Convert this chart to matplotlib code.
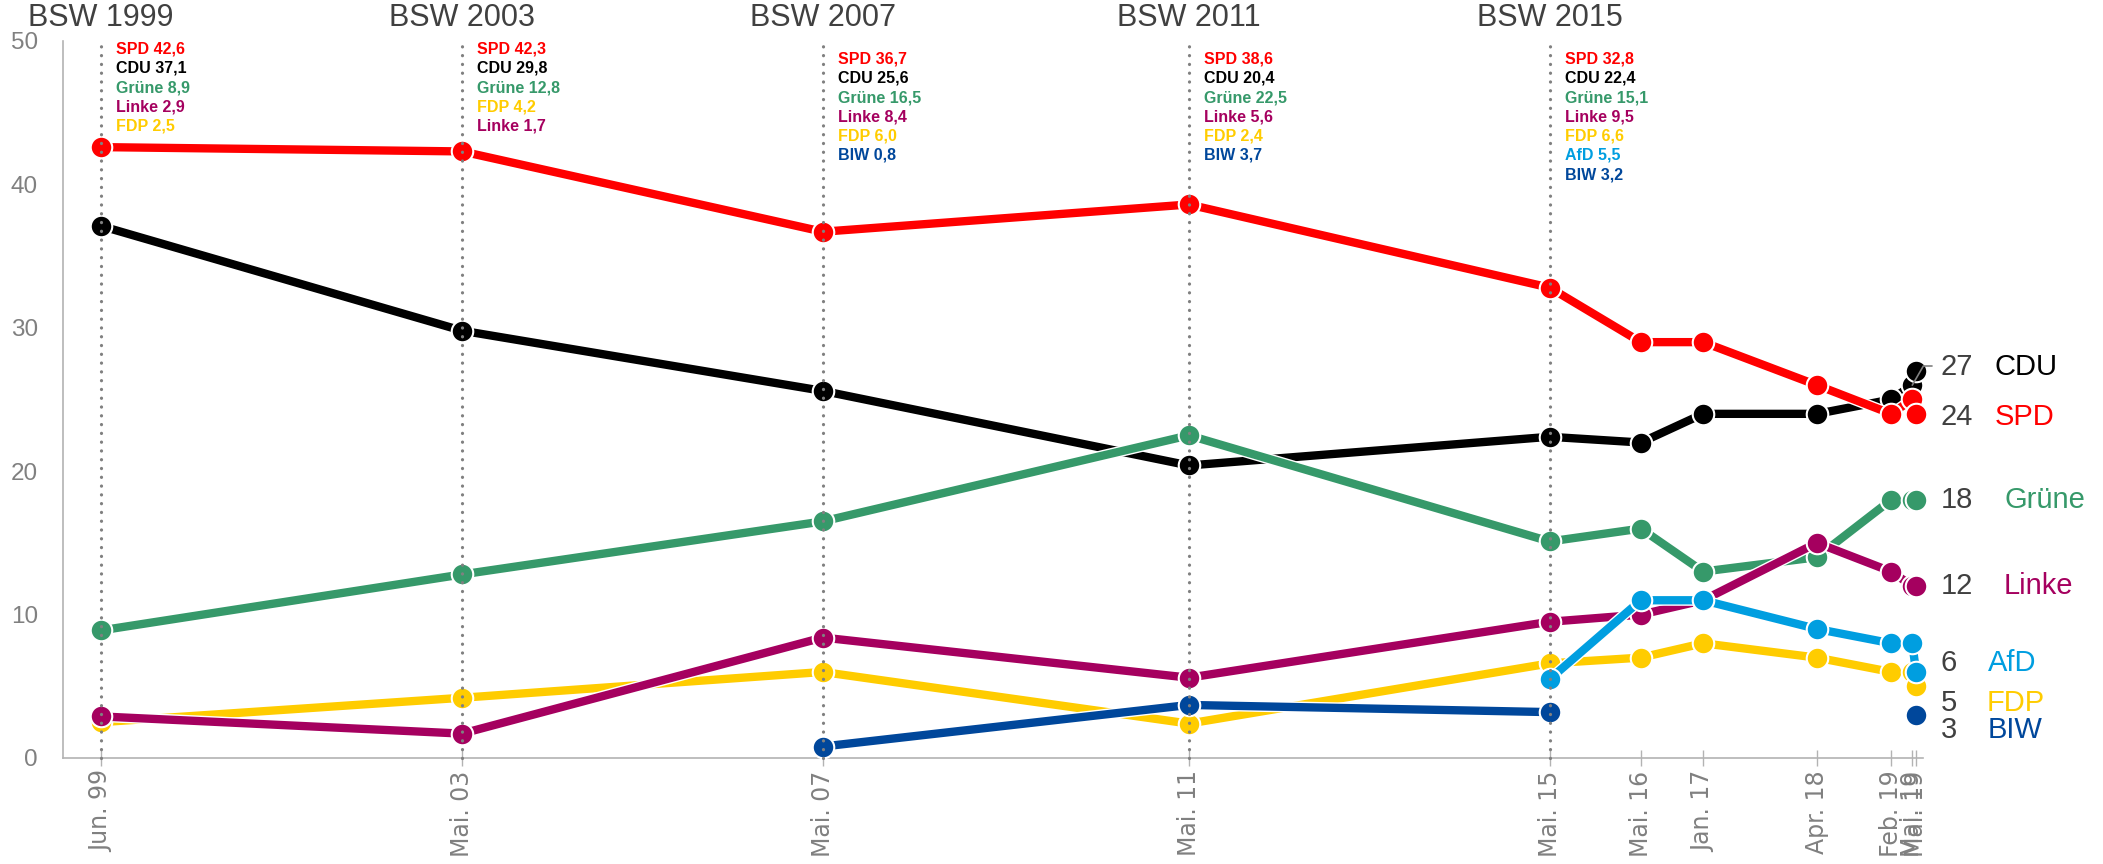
import datetime as dt

import matplotlib
matplotlib.use("Agg")
import matplotlib.pyplot as plt
import matplotlib.patheffects as pe
from matplotlib.transforms import blended_transform_factory, offset_copy

nan = float("nan")

# poll dates: five elections, then the polls after 2015
dates = [dt.date(1999, 6, 6), dt.date(2003, 5, 25), dt.date(2007, 5, 13), dt.date(2011, 5, 22),
         dt.date(2015, 5, 10), dt.date(2016, 5, 10), dt.date(2017, 1, 15), dt.date(2018, 4, 17),
         dt.date(2019, 2, 9), dt.date(2019, 5, 5), dt.date(2019, 5, 20)]
tick_labels = ["Jun. 99", "Mai. 03", "Mai. 07", "Mai. 11", "Mai. 15", "Mai. 16", "Jan. 17",
               "Apr. 18", "Feb. 19", "Mai. 19", "Mai. 19"]
elections = ["BSW 1999", "BSW 2003", "BSW 2007", "BSW 2011", "BSW 2015"]
# order of the result lines next to each election
result_order = [
    ["SPD", "CDU", "Grüne", "Linke", "FDP"],
    ["SPD", "CDU", "Grüne", "FDP", "Linke"],
    ["SPD", "CDU", "Grüne", "Linke", "FDP", "BIW"],
    ["SPD", "CDU", "Grüne", "Linke", "FDP", "BIW"],
    ["SPD", "CDU", "Grüne", "Linke", "FDP", "AfD", "BIW"],
]

parties = ["CDU", "SPD", "Grüne", "FDP", "Linke", "AfD", "BIW"]
cdu = [37.1, 29.8, 25.6, 20.4, 22.4, 22, 24, 24, 25, 26, 27]
spd = [42.6, 42.3, 36.7, 38.6, 32.8, 29, 29, 26, 24, 25, 24]
gruene = [8.9, 12.8, 16.5, 22.5, 15.1, 16, 13, 14, 18, 18, 18]
fdp = [2.5, 4.2, 6.0, 2.4, 6.6, 7, 8, 7, 6, 6, 5]
linke = [2.9, 1.7, 8.4, 5.6, 9.5, 10, 11, 15, 13, 12, 12]
afd = [nan, nan, nan, nan, 5.5, 11, 11, 9, 8, 8, 6]
biw = [nan, nan, 0.8, 3.7, 3.2, nan, nan, nan, nan, nan, 3]
series = [cdu, spd, gruene, fdp, linke, afd, biw]

colors = {"CDU": "#000000", "SPD": "#ff0000", "Grüne": "#36996a", "FDP": "#ffcc00",
          "Linke": "#a5005f", "AfD": "#009ee0", "BIW": "#00479b"}

# end label layout (figure pixels from the top-left corner)
end_label_y = {"CDU": 367, "SPD": 417, "Grüne": 500, "Linke": 586, "AfD": 663, "FDP": 703, "BIW": 730}
end_name_x = {"CDU": 1995, "SPD": 1995, "Grüne": 2004, "Linke": 2004, "AfD": 1988, "FDP": 1987, "BIW": 1988}

W, H = 2103, 864
GRAY = "#808080"
DARK = "#404040"
SANS = ["Liberation Sans", "DejaVu Sans"]

fig = plt.figure(figsize=(W / 100, H / 100), dpi=100)
ax = fig.add_axes([63 / W, (H - 758) / H, (1923 - 63) / W, (758 - 41) / H])
ax.set_xlim(dt.date(1999, 1, 4), dt.date(2019, 6, 17))
ax.set_ylim(0, 50)

for side in ("top", "right"):
    ax.spines[side].set_visible(False)
for side in ("left", "bottom"):
    ax.spines[side].set_color("#b3b3b3")
    ax.spines[side].set_linewidth(1.2)

ax.set_yticks(range(0, 51, 10))
ax.tick_params(axis="y", length=0, pad=18, labelcolor=GRAY, labelsize=17.5)
for lab in ax.get_yticklabels():
    lab.set_family(SANS)
ax.set_xticks(dates)
ax.set_xticklabels(tick_labels, rotation=90, color=GRAY, fontsize=17, family="DejaVu Sans")
ax.tick_params(axis="x", direction="inout", length=12, width=1, color="#b3b3b3", pad=3)

# party lines and markers
for i, (party, vals) in enumerate(zip(parties, series)):
    c = colors[party]
    ax.plot(dates, vals, color=c, lw=6, solid_capstyle="round", zorder=2 + i,
            path_effects=[pe.Stroke(linewidth=8, foreground="white"), pe.Normal()], clip_on=False)
    ax.plot(dates, vals, ls="none", marker="o", ms=15.5, mfc=c, mec="white", mew=1.5,
            zorder=2 + i, clip_on=False)

# election lines, titles and results
fig_y = blended_transform_factory(ax.transData, fig.transFigure)
tr = blended_transform_factory(offset_copy(ax.transData, fig, x=15, units="dots"), fig.transFigure)
for k, name in enumerate(elections):
    d = dates[k]
    ax.vlines(d, 0, 50.2, colors=GRAY, lw=2.3, linestyles=(0, (0.05, 2.7)),
              capstyle="round", zorder=20, clip_on=False)
    ax.text(d, 1 - 18 / H, name, transform=fig_y, ha="center", va="center",
            fontsize=22, color=DARK, family=SANS)
    top = 49 if k < 2 else 59
    for j, p in enumerate(result_order[k]):
        v = series[parties.index(p)][k]
        ax.text(d, 1 - (top + j * 19.3) / H, f"{p} {v:.1f}".replace(".", ","), transform=tr,
                ha="left", va="center", fontsize=11.5, fontweight="bold", color=colors[p], family=SANS)

# end labels
for party, vals in zip(parties, series):
    y = 1 - end_label_y[party] / H
    fig.text(1941 / W, y, f"{vals[-1]:g}", ha="left", va="center", fontsize=21, color=DARK, family=SANS)
    fig.text(end_name_x[party] / W, y, party, ha="left", va="center", fontsize=21,
             color=colors[party], family=SANS)

ax.annotate("", xy=(dates[-2], cdu[-2]), xycoords="data",
            xytext=(1932 / W, 1 - 366 / H), textcoords="figure fraction",
            arrowprops=dict(arrowstyle="-", color=GRAY, lw=1.2,
                            connectionstyle="angle,angleA=0,angleB=60,rad=0",
                            shrinkA=0, shrinkB=0), zorder=30)

fig.savefig("out.png", dpi=100)
